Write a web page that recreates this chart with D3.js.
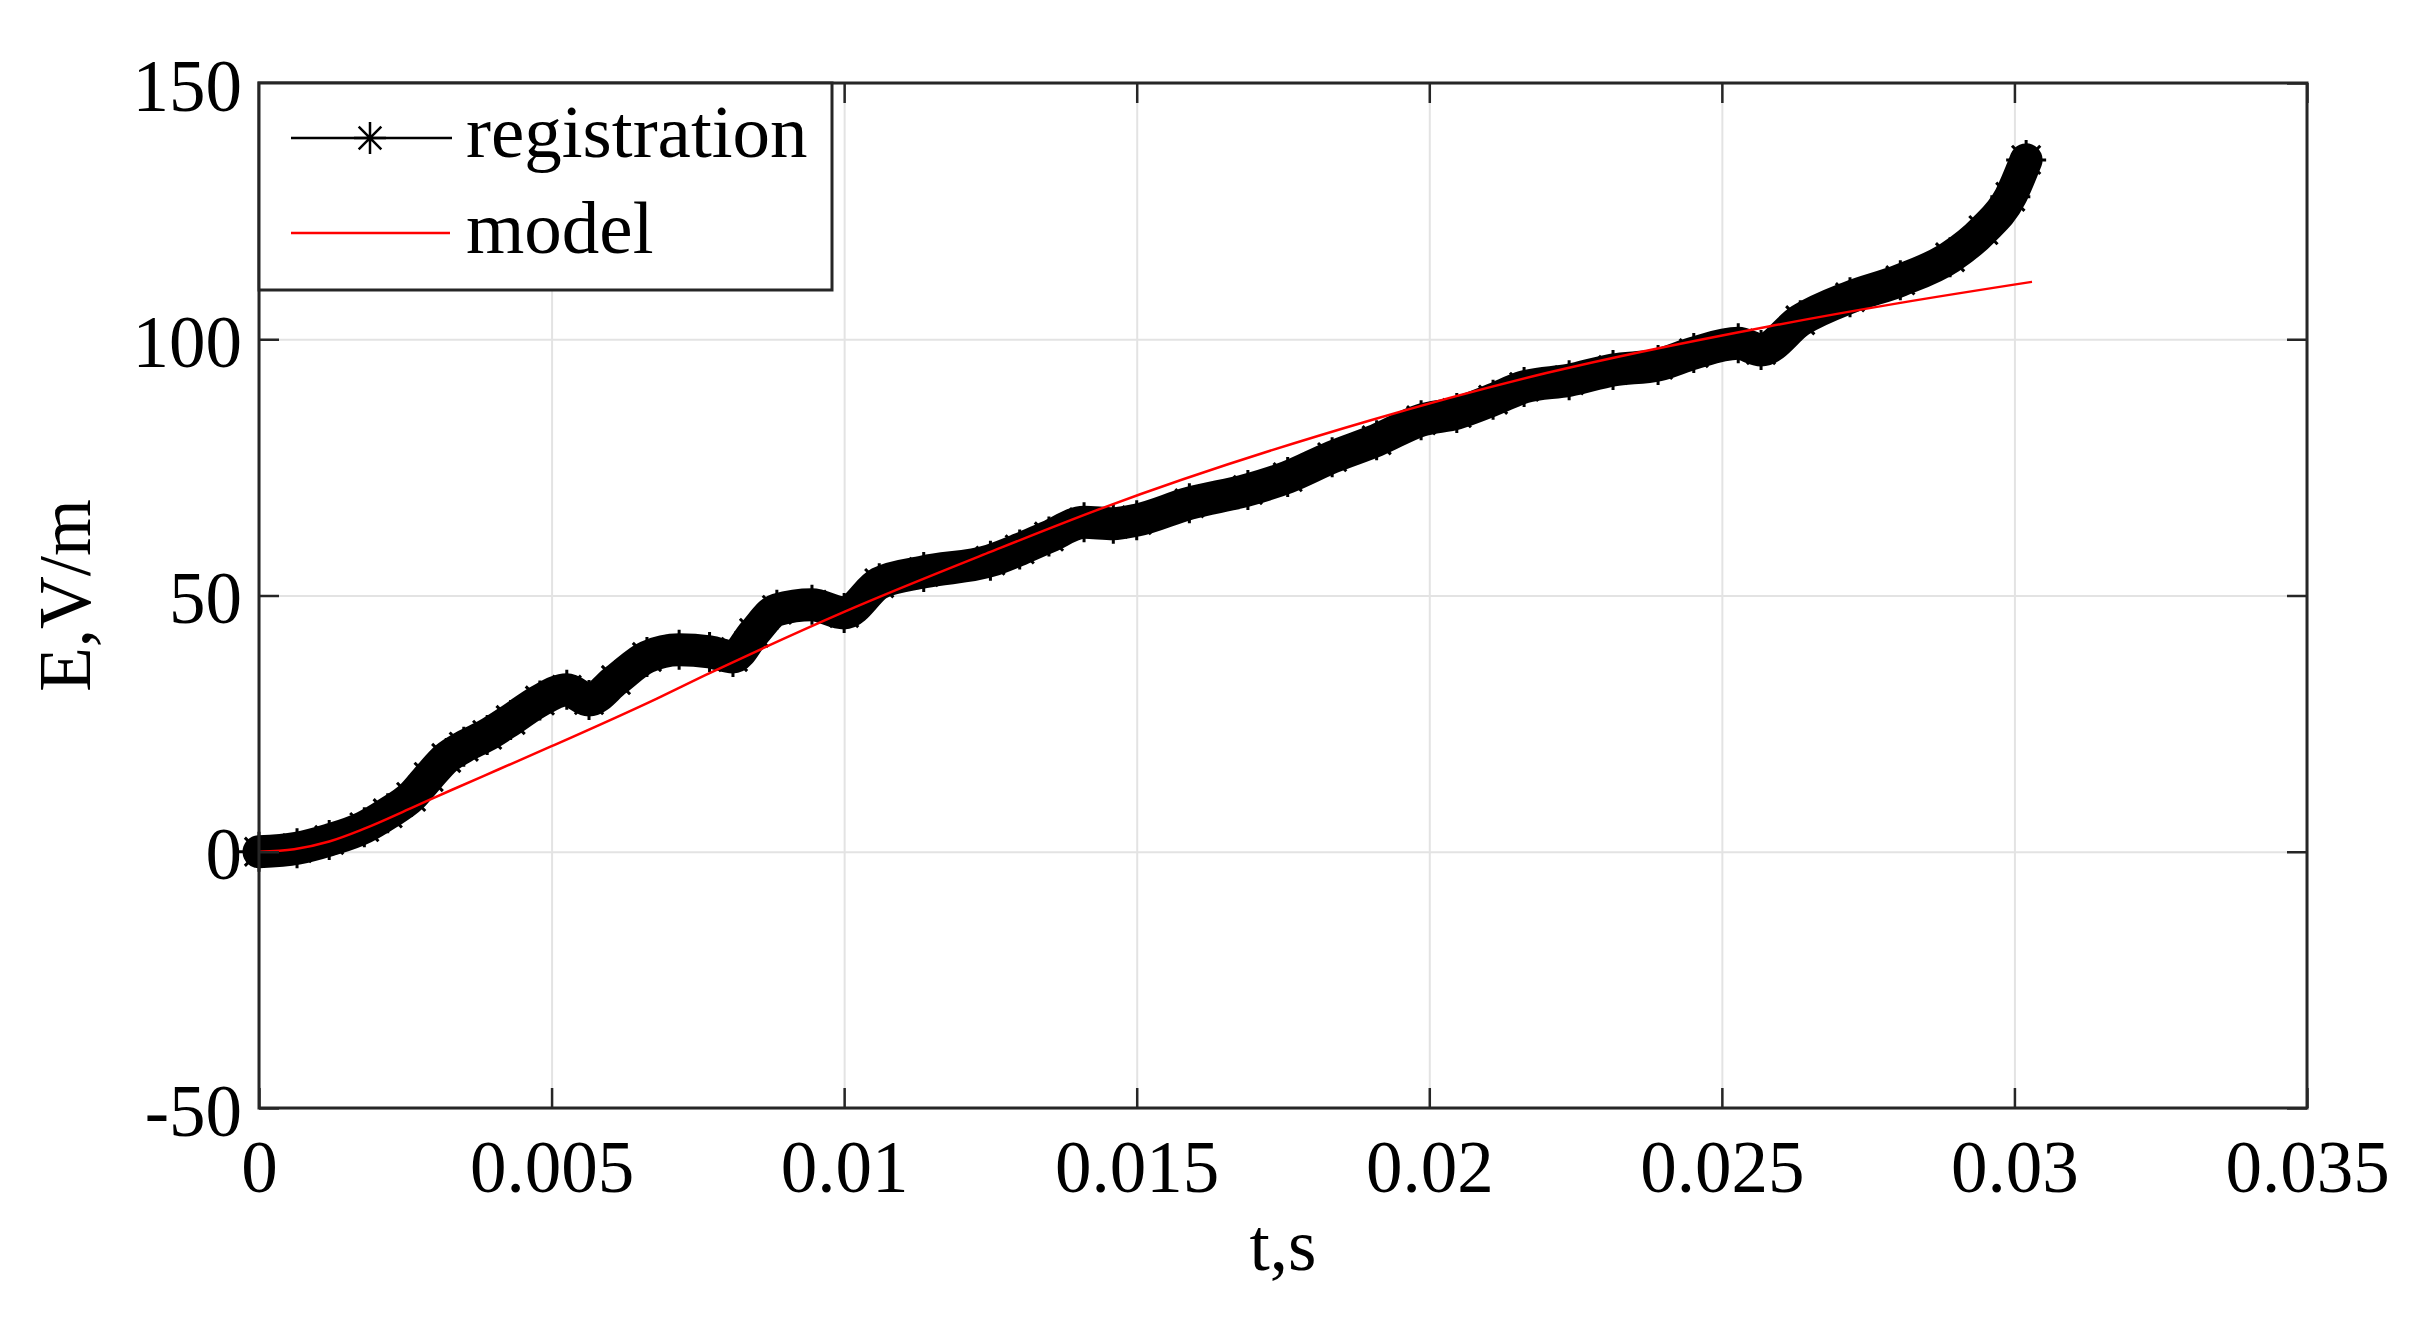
<!DOCTYPE html>
<html><head><meta charset="utf-8">
<script src="https://cdn.jsdelivr.net/npm/d3@7"></script>
<style>
body{margin:0;background:#fff}
text{font-family:"Liberation Serif","Times New Roman",serif;fill:#000}
</style>
</head><body><svg id="c" width="2415" height="1325"></svg>
<script>
// ---- data ----
const regT = [0, 0.00065, 0.0012, 0.0018, 0.0022, 0.0026, 0.0029, 0.0032, 0.0035, 0.0039, 0.0043, 0.0048, 0.00526, 0.00564, 0.0061, 0.00663, 0.00718, 0.0077, 0.0081, 0.00846, 0.00885, 0.00945, 0.01, 0.0106, 0.01136, 0.0125, 0.013, 0.0135, 0.0141, 0.0146, 0.015, 0.0159, 0.0169, 0.01758, 0.01834, 0.0191, 0.01986, 0.02047, 0.02109, 0.02162, 0.02239, 0.02314, 0.02391, 0.02452, 0.02528, 0.02567, 0.02634, 0.02719, 0.02805, 0.0289, 0.02947, 0.02993, 0.0302];
const regE = [0, 0.7, 2.3, 4.8, 7.5, 10.7, 14.6, 18.3, 20.5, 22.8, 25.7, 29.5, 31.6, 29.6, 33.5, 38, 39.4, 39, 38, 42.7, 47.2, 48.2, 46.6, 52.4, 54.6, 56.8, 59, 61.5, 64.3, 64, 64.7, 68, 70.6, 73.1, 77, 80.3, 84.2, 85.6, 88.2, 90.7, 92, 94, 95, 97.3, 99.2, 97.9, 103.7, 108.2, 111.5, 116, 121.3, 127.8, 135];
const modelT = [0, 0.0006, 0.0012, 0.0018, 0.0026, 0.0033, 0.0041, 0.005, 0.0068, 0.0076, 0.01, 0.0125, 0.0144, 0.019, 0.022, 0.0258, 0.028, 0.0303];
const modelE = [0, 0.5, 2.0, 4.5, 8.5, 12.1, 16.1, 20.6, 29.9, 34.3, 46.8, 58.5, 67, 84.2, 93.4, 102.5, 107, 111.2];
const xTicks = [0, 0.005, 0.01, 0.015, 0.02, 0.025, 0.03, 0.035];
const xTickLabels = ["0", "0.005", "0.01", "0.015", "0.02", "0.025", "0.03", "0.035"];
const yTicks = [-50, 0, 50, 100, 150];
const yTickLabels = ["-50", "0", "50", "100", "150"];
const legendLabels = ["registration", "model"];
const xTitle = "t,s", yTitle = "E,V/m";

// ---- layout ----
const L = 259, R = 2307, T = 83, B = 1108;
const W = R - L, H = B - T;
const svg = d3.select("#c");
svg.append("rect").attr("width", 2415).attr("height", 1325).attr("fill", "#fff");
const x = d3.scaleLinear().domain([0, 0.035]).range([L, R]);
const y = d3.scaleLinear().domain([-50, 150]).range([B, T]);
const FS = 73;

// grid
const gx = svg.append("g").attr("transform", `translate(0,${B})`)
  .call(d3.axisBottom(x).tickValues(xTicks).tickSize(-H).tickFormat(""));
gx.select(".domain").remove();
gx.selectAll("line").attr("stroke", "#e3e3e3").attr("stroke-width", 2);
const gy = svg.append("g").attr("transform", `translate(${L},0)`)
  .call(d3.axisLeft(y).tickValues(yTicks).tickSize(-W).tickFormat(""));
gy.select(".domain").remove();
gy.selectAll("line").attr("stroke", "#e3e3e3").attr("stroke-width", 2);

// registration series
const reg = regT.map((t, i) => [t, regE[i]]);
const mod = modelT.map((t, i) => [t, modelE[i]]);
const line = d3.line().x(d => x(d[0])).y(d => y(d[1])).curve(d3.curveMonotoneX);
svg.append("path").datum(reg).attr("d", line).attr("fill", "none")
  .attr("stroke", "#000").attr("stroke-width", 33).attr("stroke-linejoin", "round").attr("stroke-linecap", "round");
function asterisk(r) {
  const a = r * 0.7071;
  return `M0,${-r}V${r}M${-r},0H${r}M${-a},${-a}L${a},${a}M${-a},${a}L${a},${-a}`;
}
svg.append("g").selectAll("path").data(reg).join("path")
  .attr("transform", d => `translate(${x(d[0])},${y(d[1])})`)
  .attr("d", asterisk(20)).attr("fill", "none").attr("stroke", "#000").attr("stroke-width", 3);

// model
svg.append("path").datum(mod).attr("d", line).attr("fill", "none")
  .attr("stroke", "#ff0000").attr("stroke-width", 2.5);

// frame + ticks
const axStroke = "#262626";
function styleAx(g) {
  g.select(".domain").remove();
  g.selectAll("line").attr("stroke", axStroke).attr("stroke-width", 2.5);
}
const ab = svg.append("g").attr("transform", `translate(0,${B})`)
  .call(d3.axisBottom(x).tickValues(xTicks).tickSizeInner(-20).tickSizeOuter(0)
    .tickFormat((d, i) => xTickLabels[i]));
styleAx(ab);
ab.selectAll("text").attr("y", 84).attr("dy", null).attr("font-size", FS)
  .attr("font-family", "Liberation Serif").attr("fill", "#000");
const at = svg.append("g").attr("transform", `translate(0,${T})`)
  .call(d3.axisTop(x).tickValues(xTicks).tickSizeInner(-20).tickSizeOuter(0).tickFormat(""));
styleAx(at);
const al = svg.append("g").attr("transform", `translate(${L},0)`)
  .call(d3.axisLeft(y).tickValues(yTicks).tickSizeInner(-20).tickSizeOuter(0)
    .tickFormat((d, i) => yTickLabels[i]));
styleAx(al);
al.selectAll("text").attr("x", -17).attr("dy", "0.37em").attr("font-size", FS)
  .attr("font-family", "Liberation Serif").attr("fill", "#000");
const ar = svg.append("g").attr("transform", `translate(${R},0)`)
  .call(d3.axisRight(y).tickValues(yTicks).tickSizeInner(-20).tickSizeOuter(0).tickFormat(""));
styleAx(ar);
svg.append("rect").attr("x", L).attr("y", T).attr("width", W).attr("height", H)
  .attr("fill", "none").attr("stroke", axStroke).attr("stroke-width", 3);

// titles
svg.append("text").attr("x", (L + R) / 2).attr("y", 1270).attr("text-anchor", "middle")
  .attr("font-size", FS).text(xTitle);
svg.append("text").attr("transform", `translate(90,${(T + B) / 2}) rotate(-90)`)
  .attr("text-anchor", "middle").attr("font-size", FS).text(yTitle);

// legend
const lg = svg.append("g");
lg.append("rect").attr("x", L).attr("y", T).attr("width", 832 - L).attr("height", 290 - T)
  .attr("fill", "#fff").attr("stroke", axStroke).attr("stroke-width", 3);
lg.append("line").attr("x1", 291).attr("x2", 452).attr("y1", 138).attr("y2", 138)
  .attr("stroke", "#000").attr("stroke-width", 2.5);
lg.append("path").attr("transform", "translate(370,138)").attr("d", asterisk(16))
  .attr("fill", "none").attr("stroke", "#000").attr("stroke-width", 2.5);
lg.append("line").attr("x1", 291).attr("x2", 450).attr("y1", 233).attr("y2", 233)
  .attr("stroke", "#ff0000").attr("stroke-width", 2.5);
lg.selectAll("text.lg").data(legendLabels).join("text").attr("class", "lg")
  .attr("x", 466).attr("y", (d, i) => i === 0 ? 157 : 253).attr("font-size", 75).text(d => d);
</script>
</body></html>
